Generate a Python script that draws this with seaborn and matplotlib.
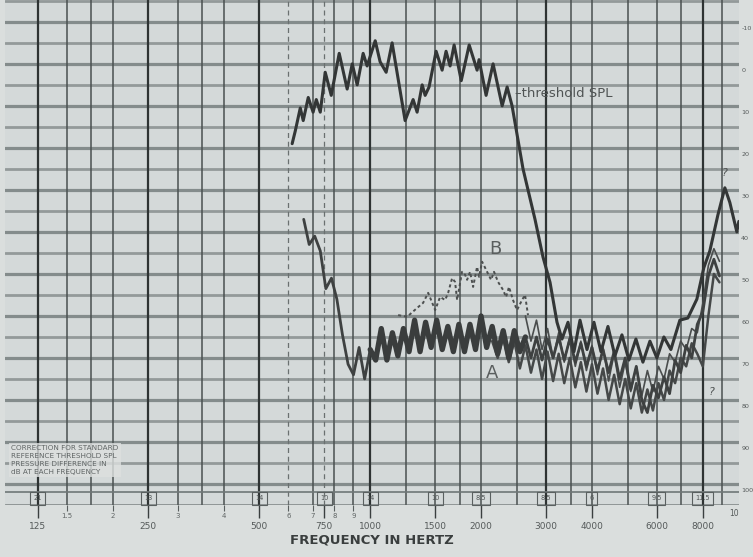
import matplotlib
matplotlib.use("Agg")
import matplotlib.pyplot as plt
import matplotlib.transforms as mtransforms
import pandas as pd
import seaborn as sns

# ---- data -------------------------------------------------------------
# threshold SPL tracing (Hz, dB)
thr_freq = [614, 626, 646, 658, 679, 700, 714, 732, 755, 784, 824, 866, 894, 922, 957, 981,
            1032, 1064, 1105, 1147, 1244, 1308, 1341, 1384, 1410, 1445, 1510, 1568, 1607, 1648,
            1690, 1767, 1857, 1951, 1975, 2064, 2156, 2282, 2354, 2428, 2600, 2802, 2946, 3078,
            3215, 3317, 3444, 3575, 3712, 3878, 4051, 4232, 4421, 4618, 4825, 5040, 5266, 5501,
            5747, 6003, 6271, 6552, 6931, 7285, 7708, 8052, 8360, 8788, 9181, 9472, 9895, 10019]
thr_db = [19, 16, 10.5, 13.5, 8, 11.5, 8.5, 11.5, 2, 7.5, -2.5, 6, 0, 5, -2.5, 0.5,
          -5.5, -0.5, 2, -5, 13.5, 8.5, 11.5, 5, 7.5, 5.5, -3, 1.5, -3, 0.5,
          -4.5, 4, -4.5, 1.5, -1, 7.5, 0, 10, 5.5, 10, 25, 37, 46, 52,
          61.5, 65.5, 61.5, 68.5, 61, 68, 61.5, 68.5, 62.5, 69.5, 64.5, 70.5, 65.5, 71,
          66, 70, 65, 68, 61, 60.5, 56, 48.5, 44.5, 36, 29.5, 33, 40, 37.5]

# tracing A
a_freq = [660, 683, 707, 732, 758, 785, 812, 841, 871, 901, 933, 966, 1000,
          1035, 1072, 1110, 1149, 1189, 1231, 1275, 1320, 1366, 1414, 1464, 1516, 1569, 1625,
          1682, 1741, 1803, 1866, 1932, 2000, 2071, 2144, 2219, 2297, 2378, 2462, 2549, 2639,
          2732, 2828, 2928, 3031, 3138, 3249, 3364, 3482, 3605, 3732, 3864, 4000, 4141, 4287,
          4439, 4595, 4757, 4925, 5098, 5278, 5464, 5657, 5856, 6063, 6277, 6498, 6727, 6964,
          7210, 7464, 7727, 8000, 8282, 8574, 8877]
a_db = [37, 43, 41, 44.5, 53.5, 51, 56, 64.5, 71.5, 74, 67.5, 75, 68,
        70.5, 63, 70.5, 64, 69.5, 63, 68.5, 61, 68.5, 61.5, 67.5, 61, 68, 62.5,
        68.5, 62, 68.5, 62, 68, 60, 67.5, 62.5, 69, 63.5, 70, 63.5, 68.5, 65,
        70, 65, 70.5, 65.5, 70, 65, 70.5, 65.5, 71, 66.5, 72, 67.5, 73, 68,
        73.5, 68.5, 75, 70, 77.5, 72, 80, 83, 76.5, 79.5, 74.5, 78.5, 70.5, 73.5,
        67, 70, 62, 59, 50.5, 46.5, 50.5]

# tracing B (broken pen line)
b_freq = [1191, 1260, 1341, 1392, 1437, 1501, 1548, 1598, 1628, 1669, 1700, 1722, 1776, 1810,
          1833, 1867, 1903, 1951, 1975, 2013, 2077, 2129, 2169, 2224, 2295, 2338, 2382, 2442,
          2504, 2584, 2633, 2682]
b_db = [59.8, 60.2, 58.1, 56.9, 54.5, 58.6, 55.5, 56.2, 54.5, 51, 51.9, 56.2, 49.5, 50.2,
        51.4, 49.5, 53.1, 48.3, 50.7, 47.1, 49.5, 51.4, 49.5, 51.9, 53.8, 55.5, 53.1, 56.2,
        58.6, 56.2, 55, 59.8]

# further tracings in the high-frequency region
c_freq = [2144, 2219, 2297, 2378, 2462, 2549, 2639, 2732, 2828, 2928, 3031, 3138, 3249, 3364,
          3482, 3605, 3732, 3864, 4000, 4141, 4287, 4439, 4595, 4757, 4925, 5098, 5278, 5464,
          5657, 5856, 6063, 6277, 6498, 6727, 6964, 7210, 7464, 7727, 8000, 8282, 8574, 8877]
c_db = [66, 70, 65, 71, 66, 72.5, 67, 73.5, 68, 75, 68.5, 75.5, 69, 76,
        70, 77, 71, 78, 71.5, 78.5, 72.5, 80, 74, 81, 75, 82, 76, 83,
        77.5, 82.5, 76, 80, 73, 76, 70, 72, 66.5, 69, 72, 60, 50, 52]

d_freq = [2639, 2732, 2828, 2928, 3031, 3138, 3249, 3364, 3482, 3605, 3732, 3864, 4000, 4141,
          4287, 4439, 4595, 4757, 4925, 5098, 5278, 5464, 5657, 5856, 6063, 6277, 6498, 6727,
          6964, 7210, 7464, 7727, 8000, 8282, 8574, 8877]
d_db = [60, 66, 61, 68, 63, 70, 64, 71, 65, 72, 66, 73, 67, 74,
        67.5, 75.5, 69, 77, 71, 78, 72, 79, 73, 78, 72, 75, 69, 71,
        66, 68, 63, 64, 57, 48, 44, 47]

# frequency scale
major_freqs = [125, 250, 500, 750, 1000, 1500, 2000, 3000, 4000, 6000, 8000]
major_labels = ["125", "250", "500", "750", "1000", "1500", "2000", "3000", "4000", "6000", "8000"]
minor_freqs = [150, 200, 300, 400, 600, 700, 800, 900]
minor_labels = ["1.5", "2", "3", "4", "6", "7", "8", "9"]
grid_freqs = [125, 150, 175, 200, 250, 300, 350, 400, 500, 600, 700, 750, 800, 900,
              1000, 1250, 1500, 1750, 2000, 2500, 3000, 3500, 4000, 5000, 6000, 7000, 8000, 9000]
dark_freqs = [125, 250, 500, 1000, 3000, 8000]
dashed_freqs = [600, 750]

# boxed reference numbers along the bottom strip
box_freqs = [125, 250, 500, 750, 1000, 1500, 2000, 3000, 4000, 6000, 8000]
box_labels = ["21", "13", "14", "10", "14", "10", "8.5", "8.5", "6", "9.5", "11.5"]

# level scale (dB)
level_ticks = [-10, 0, 10, 20, 30, 40, 50, 60, 70, 80, 90, 100]

PAPER = "#dadedd"
FIELD = "#d4d9d9"

# ---- figure -----------------------------------------------------------
sns.set_theme(style="white")
plt.rcParams["font.family"] = ["DejaVu Sans"]

fig = plt.figure(figsize=(7.53, 5.57), dpi=100, facecolor=PAPER)
ax = fig.add_axes([5 / 753, 52 / 557, 734 / 753, 505 / 557])
ax.set_facecolor(FIELD)
ax.set_xscale("log")
ax.set_xlim(102, 10030)
ax.set_ylim(105, -15.2)
for s in ax.spines.values():
    s.set_visible(False)

# horizontal rulings every 5 dB
for lv in range(-15, 106, 5):
    ax.axhline(lv, color="#848c8c" if lv % 10 == 0 else "#939a9a",
               lw=2.3 if lv % 10 == 0 else 2.0, zorder=1)

# vertical rulings
for f in grid_freqs:
    if f in dashed_freqs:
        ax.axvline(f, color="#6a7070", lw=0.9, ls=(0, (4, 3)), zorder=1)
    elif f in dark_freqs:
        ax.axvline(f, color="#2e3333", lw=1.6, zorder=1)
    else:
        ax.axvline(f, color="#4a5050", lw=1.1, zorder=1)

# bottom reference strip
ax.axhline(101.8, color="#6f7777", lw=1.2, zorder=2)
ax.axhline(104.9, color="#6f7777", lw=1.0, zorder=2)
for f, lab in zip(box_freqs, box_labels):
    ax.text(f, 103.4, lab, ha="center", va="center", fontsize=4.8, color="#505555",
            bbox=dict(boxstyle="square,pad=0.5", fc="none", ec="#5a6060", lw=0.8), zorder=3)

# tracings
thr = pd.DataFrame({"freq": thr_freq, "db": thr_db})
tra = pd.DataFrame({"freq": a_freq, "db": a_db})
trb = pd.DataFrame({"freq": b_freq, "db": b_db})
trc = pd.DataFrame({"freq": c_freq, "db": c_db})
trd = pd.DataFrame({"freq": d_freq, "db": d_db})

kw = dict(ax=ax, x="freq", y="db", estimator=None, sort=False, legend=False)
sns.lineplot(data=trd, color="#4a4d4d", lw=1.2, zorder=4, **kw)
sns.lineplot(data=trc, color="#454848", lw=1.8, zorder=4, **kw)
sns.lineplot(data=tra, color="#3e4141", lw=2.0, zorder=5, **kw)
sns.lineplot(data=tra[(tra.freq >= 1000) & (tra.freq <= 2640)], color="#3a3d3d", lw=3.8, zorder=5, **kw)
sns.lineplot(data=trb, color="#4d5050", lw=1.4, ls=(0, (1.6, 1.4)), zorder=4, **kw)
sns.lineplot(data=thr, color="#333636", lw=2.2, zorder=6, **kw)

# annotations on the tracings
ax.text(2470, 7.0, "\u2013threshold SPL", fontsize=9.5, color="#505454", va="center", ha="left", zorder=7)
ax.text(2183, 44, "B", fontsize=13, color="#5a5e5e", ha="center", va="center", zorder=7)
ax.text(2142, 73.5, "A", fontsize=13, color="#5a5e5e", ha="center", va="center", zorder=7)
ax.text(9181, 26, "?", fontsize=8, color="#505454", style="italic", ha="center", va="center", zorder=7)
ax.text(8465, 78, "?", fontsize=8, color="#505454", style="italic", ha="center", va="center", zorder=7)

# note in the lower-left corner
ax.text(106, 94.3,
        "CORRECTION FOR STANDARD\nREFERENCE THRESHOLD SPL\nPRESSURE DIFFERENCE IN\ndB AT EACH FREQUENCY",
        fontsize=5.2, color="#5f6464", va="center", ha="left", linespacing=1.35, zorder=3,
        bbox=dict(boxstyle="square,pad=0.3", fc="#dde0df", ec="none", alpha=0.8))

# frequency axis
ax.set_xticks(major_freqs)
ax.set_xticklabels(major_labels)
ax.set_xticks(minor_freqs, minor=True)
ax.set_xticklabels(minor_labels, minor=True)
ax.tick_params(axis="x", which="major", length=9, width=1.0, color="#3a3f3f",
               labelsize=6.5, labelcolor="#555a5a", pad=3, direction="out", bottom=True)
ax.tick_params(axis="x", which="minor", length=4, width=0.8, color="#5a5f5f",
               labelsize=5, labelcolor="#606565", pad=1.5, direction="out", bottom=True)
ax.tick_params(axis="y", left=False, right=False, labelleft=False)
ax.text(10000, 107.0, "10", fontsize=5.5, color="#555a5a", ha="right", va="center", clip_on=False)
ax.set_xlabel("FREQUENCY IN HERTZ", fontsize=9.5, fontweight="bold", color="#3a3e3e", labelpad=2)
ax.set_ylabel("")

# level labels along the right edge
tr = mtransforms.blended_transform_factory(ax.transAxes, ax.transData)
for lv in level_ticks:
    ax.text(1.003, lv + 1.5, str(lv), transform=tr, fontsize=4.6, color="#555a5a",
            ha="left", va="center", clip_on=False)

fig.savefig("out.png", dpi=100, facecolor=PAPER)
